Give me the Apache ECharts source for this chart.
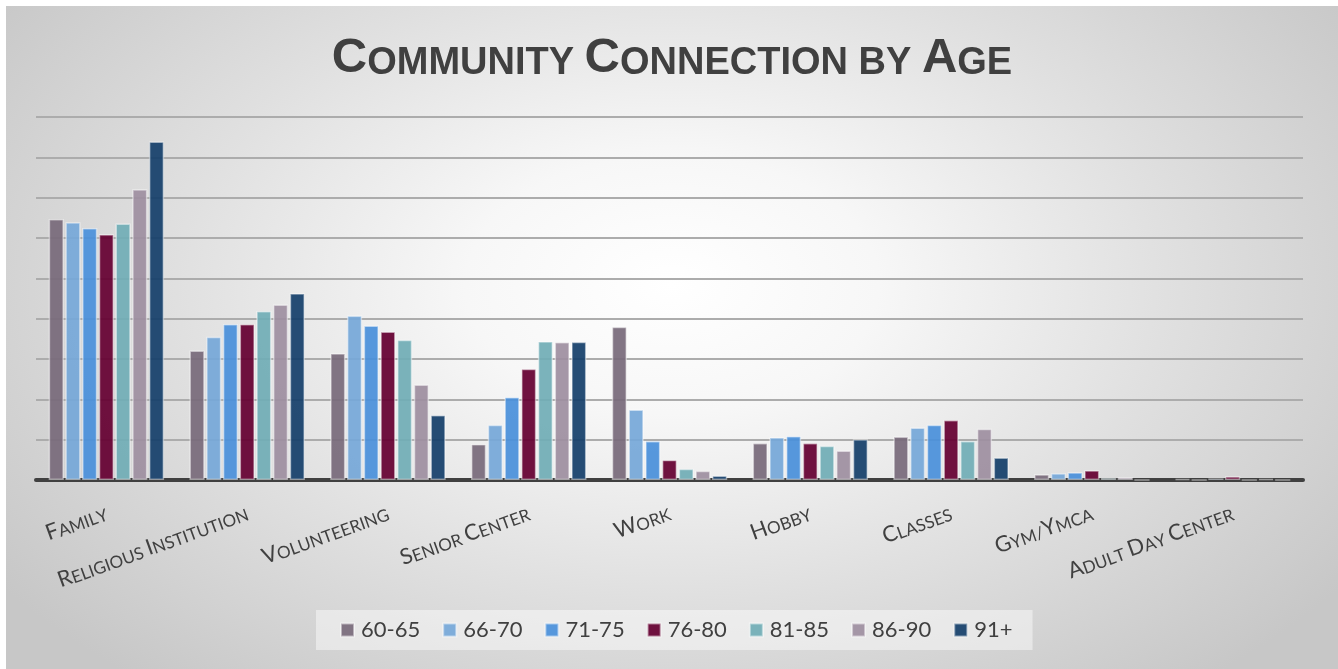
<!DOCTYPE html>
<html>
<head>
<meta charset="utf-8">
<title>Community Connection by Age</title>
<script src="https://cdn.jsdelivr.net/npm/echarts@6/dist/echarts.min.js"></script>
<style>
  html, body { margin: 0; padding: 0; background: #ffffff; }
  #chart {
    position: absolute; left: 6px; top: 6px; width: 1332px; height: 663px;
    background: radial-gradient(ellipse 62% 78% at 50% 42%, #ffffff 0%, #f7f7f7 25%, #e0e0e0 60%, #c7c7c7 100%);
  }
</style>
</head>
<body>
<div id="chart"></div>
<script>
// Places where people feel connected
const categories = ['Family', 'Religious Institution', 'Volunteering', 'Senior Center', 'Work', 'Hobby', 'Classes', 'Gym/Ymca', 'Adult Day Center'];

// Age groups
const ageGroups = ['60-65', '66-70', '71-75', '76-80', '81-85', '86-90', '91+'];

// Share of respondents per place, one array per age group
const age60to65 = [64.7, 32.1, 31.4, 8.9, 38.0, 9.2, 10.8, 1.4, 0.3];
const age66to70 = [63.9, 35.5, 40.8, 13.7, 17.5, 10.6, 13.0, 1.7, 0.0];
const age71to75 = [62.5, 38.7, 38.3, 20.6, 9.7, 10.9, 13.7, 1.9, 0.4];
const age76to80 = [60.9, 38.7, 36.8, 27.6, 5.0, 9.2, 14.9, 2.4, 0.9];
const age81to85 = [63.6, 41.9, 34.8, 34.4, 2.8, 8.5, 9.7, 0.5, 0.0];
const age86to90 = [72.1, 43.5, 23.7, 34.2, 2.3, 7.3, 12.7, 0.7, 0.3];
const age91plus = [83.9, 46.3, 16.1, 34.3, 1.1, 10.1, 5.6, 0.0, 0.0];

const seriesValues = [age60to65, age66to70, age71to75, age76to80, age81to85, age86to90, age91plus];
const colors = ['#796a7b', '#76a8d8', '#4a90da', '#650031', '#71adb6', '#9e8fa0', '#163f6b'];

// Turn "Religious Institution" into small-caps rich text
function smallCaps(text) {
  let out = '';
  for (const ch of text) {
    if (ch >= 'A' && ch <= 'Z') out += '{b|' + ch + '}';
    else if (ch === ' ') out += '{s| }';
    else out += '{s|' + ch.toUpperCase() + '}';
  }
  return out;
}

const labelFont = 'Lato, "Open Sans", sans-serif';
const titleFont = '"Liberation Sans Narrow", "Liberation Sans", Arial, sans-serif';

const chart = echarts.init(document.getElementById('chart'));
chart.setOption({
  animation: false,
  title: {
    text: '{b|C}{s|OMMUNITY }{b|C}{s|ONNECTION BY }{b|A}{s|GE}',
    left: 'center',
    top: 23,
    textStyle: {
      rich: {
        b: { fontFamily: titleFont, fontWeight: 'bold', fontSize: 49, color: '#404040' },
        s: { fontFamily: titleFont, fontWeight: 'bold', fontSize: 38, color: '#404040', verticalAlign: 'bottom' }
      }
    }
  },
  legend: {
    data: ageGroups,
    left: 310,
    top: 604,
    width: 720,
    padding: [9, 20, 9, 24],
    backgroundColor: 'rgba(255,255,255,0.45)',
    icon: 'rect',
    itemWidth: 13,
    itemHeight: 13,
    itemGap: 22,
    textStyle: { fontFamily: labelFont, fontSize: 22, color: '#404040', padding: [0, 0, 0, 2] }
  },
  grid: { left: 30, right: 35, top: 111, bottom: 189, containLabel: false },
  xAxis: {
    type: 'category',
    data: categories,
    axisLine: { show: true, lineStyle: { color: '#404040', width: 4 } },
    axisTick: { show: false },
    axisLabel: {
      interval: 0,
      rotate: 20,
      margin: 32,
      hideOverlap: false,
      color: '#404040',
      formatter: smallCaps,
      rich: {
        b: { fontFamily: labelFont, fontSize: 22, color: '#404040' },
        s: { fontFamily: labelFont, fontSize: 17, color: '#404040', verticalAlign: 'bottom' }
      }
    }
  },
  yAxis: {
    type: 'value',
    min: 0,
    max: 90,
    interval: 10,
    axisLabel: { show: false },
    axisLine: { show: false },
    axisTick: { show: false },
    splitLine: { show: true, lineStyle: { color: '#acacac', width: 2 } }
  },
  series: ageGroups.map((name, i) => ({
    name: name,
    type: 'bar',
    data: seriesValues[i],
    barCategoryGap: '18%',
    barGap: '10%',
    itemStyle: {
      color: colors[i],
      opacity: 0.93,
      borderColor: 'rgba(255,255,255,0.5)',
      borderWidth: 1.5
    }
  }))
});
</script>
</body>
</html>
